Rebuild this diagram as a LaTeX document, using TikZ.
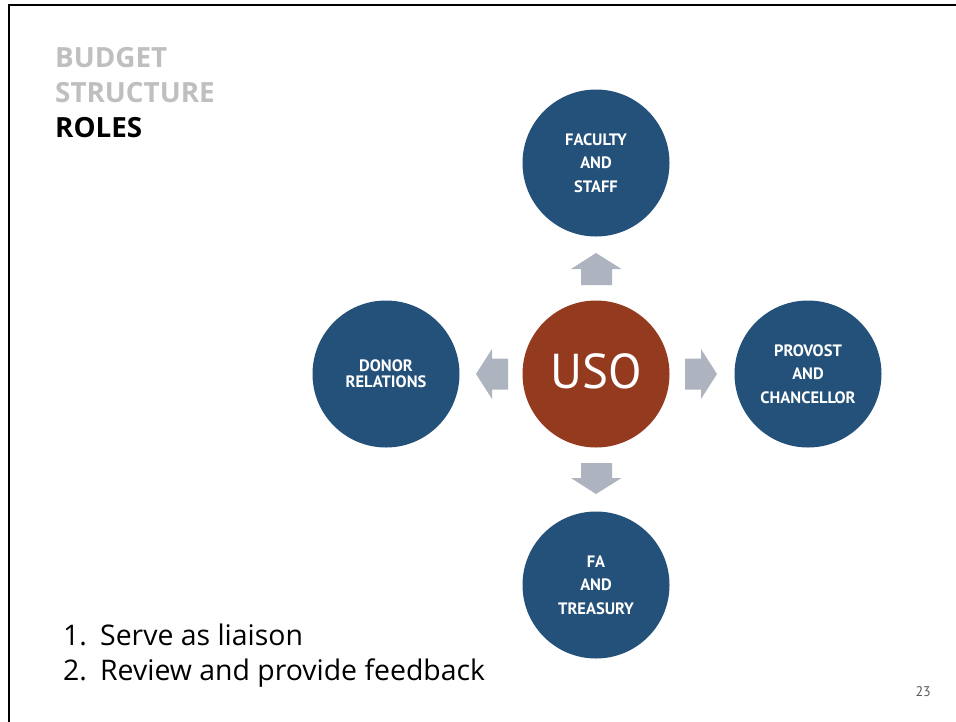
\documentclass[tikz,border=0pt]{standalone}
\usepackage{fontspec}
\setmainfont{PT Sans}
\newfontfamily\wideface{Open Sans}
\begin{document}
\begin{tikzpicture}[x=1pt,y=-1pt,
  blueball/.style={circle,fill=ballblue,minimum size=147pt,inner sep=0pt},
  redball/.style={circle,fill=ballred,minimum size=147pt,inner sep=0pt},
  balltext/.style={text=white,font=\fontsize{16.5}{23.5}\selectfont\bfseries,align=center},
  blockarrow/.style={fill=arrowgray},
  titletext/.style={anchor=base west,inner sep=0pt,font=\wideface\fontsize{27.8}{34}\selectfont\bfseries},
  listtext/.style={anchor=base west,inner sep=0pt,font=\wideface\fontsize{28.4}{34}\selectfont}
]
\definecolor{ballblue}{HTML}{245179}
\definecolor{ballred}{HTML}{943A1F}
\definecolor{arrowgray}{HTML}{ADB4BF}
\definecolor{titlegray}{HTML}{BFBFBF}
\definecolor{pagegray}{HTML}{595959}
\useasboundingbox (0,0) rectangle (956,721);
\fill[white] (0,0) rectangle (956,721);
% frame
\draw[line width=2.5pt,line cap=rect] (9,721) -- (9,5) -- (956,5);
% title
\node[titletext,text=titlegray] (t1) at (55,67) {BUDGET};
\node[titletext,text=titlegray] (t2) at (55,102) {STRUCTURE};
\node[titletext,text=black] (t3) at (55,137) {ROLES};
% circles
\node[redball] (uso) at (596,374) {};
\node[text=white,font=\fontsize{49}{50}\selectfont,anchor=base,inner sep=0pt] (usot) at (596,388) {USO};
\node[blueball] (fac) at (596,163) {};
\node[blueball] (don) at (386,374) {};
\node[blueball] (pro) at (808,374) {};
\node[blueball] (fa) at (596,585) {};
\node[balltext] (fact) at (596,163) {FACULTY\\AND\\STAFF};
\node[balltext,font=\fontsize{16.5}{16}\selectfont\bfseries] (dont) at (386,374) {DONOR\\RELATIONS};
\node[balltext] (prot) at (808,374) {PROVOST\\AND\\CHANCELLOR};
\node[balltext] (fat) at (596,585) {FA\\AND\\TREASURY};
% block arrows
\fill[blockarrow] (596,253) -- (621.5,269) -- (612,269) -- (612,285) -- (581,285) -- (581,269) -- (571,269) -- cycle;
\fill[blockarrow] (596,494) -- (621.5,478) -- (612,478) -- (612,463) -- (581,463) -- (581,478) -- (571,478) -- cycle;
\fill[blockarrow] (717,374) -- (701,349) -- (701,358.5) -- (685,358.5) -- (685,389.5) -- (701,389.5) -- (701,399) -- cycle;
\fill[blockarrow] (476,374) -- (492,349) -- (492,358.5) -- (508,358.5) -- (508,389.5) -- (492,389.5) -- (492,399) -- cycle;
% list
\node[listtext] (l1) at (63,645) {\makebox[37pt][l]{1.}Serve as liaison};
\node[listtext] (l2) at (63,680) {\makebox[37pt][l]{2.}Review and provide feedback};
% page number
\node[anchor=base east,inner sep=0pt,text=pagegray,font=\fontsize{14}{14}\selectfont] (pg) at (931,696) {23};
\end{tikzpicture}
\end{document}
